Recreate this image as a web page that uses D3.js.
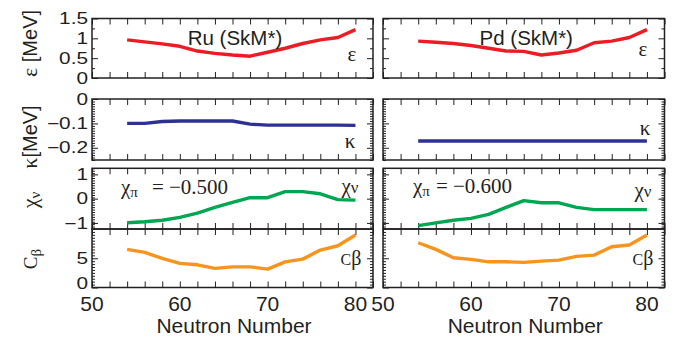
<!DOCTYPE html>
<html>
<head>
<meta charset="utf-8">
<script src="https://cdn.jsdelivr.net/npm/d3@7"></script>
<style>
  body { margin: 0; background: #fff; }
  svg { display: block; }
</style>
</head>
<body>
<svg id="chart" width="685" height="337"></svg>
<script>
// Neutron numbers of the isotope chains
const neutron = [54, 56, 58, 60, 62, 64, 66, 68, 70, 72, 74, 76, 78, 80];

// epsilon [MeV]
const epsRu = [0.96, 0.91, 0.86, 0.80, 0.68, 0.62, 0.58, 0.55, 0.65, 0.75, 0.87, 0.96, 1.02, 1.22];
const epsPd = [0.93, 0.90, 0.87, 0.82, 0.75, 0.68, 0.67, 0.58, 0.63, 0.70, 0.89, 0.93, 1.02, 1.22];

// kappa [MeV]
const kappaRu = [-0.100, -0.100, -0.092, -0.090, -0.090, -0.090, -0.090, -0.103, -0.107, -0.107, -0.107, -0.107, -0.107, -0.108];
const kappaPd = [-0.172, -0.172, -0.172, -0.172, -0.172, -0.172, -0.172, -0.172, -0.172, -0.172, -0.172, -0.172, -0.172, -0.172];

// chi_nu
const chiRu = [-0.99, -0.95, -0.89, -0.77, -0.60, -0.36, -0.15, 0.04, 0.04, 0.29, 0.29, 0.20, -0.04, -0.06];
const chiPd = [-1.11, -1.00, -0.89, -0.81, -0.65, -0.36, -0.08, -0.17, -0.17, -0.36, -0.45, -0.45, -0.45, -0.45];

// C_beta
const cbetaRu = [6.52, 6.00, 4.97, 4.12, 3.88, 3.26, 3.53, 3.53, 3.14, 4.39, 4.85, 6.40, 7.14, 8.97];
const cbetaPd = [7.65, 6.52, 5.08, 4.80, 4.39, 4.39, 4.29, 4.51, 4.68, 5.32, 5.54, 6.96, 7.26, 8.97];

// Tick values
const xMajorTicks = [50, 60, 70, 80];
const epsTicks = [0, 0.5, 1, 1.5];
const kappaTicks = [-0.2, -0.1, 0];
const chiTicks = [-1, 0, 1];
const cbetaTicks = [0, 5];

const ink = "#231f20";
const sans = "'Liberation Sans', Arial, Helvetica, sans-serif";
const serif = "'Liberation Serif', 'Times New Roman', 'DejaVu Serif', serif";

const svg = d3.select("#chart");

const columns = [
  { x0: 92, x1: 373, title: "Ru (SkM*)", chiPi: "= −0.500", chiGap: 14,
    series: { eps: epsRu, kappa: kappaRu, chi: chiRu, cbeta: cbetaRu },
    tags: { eps: [352, 60.7], kappa: [350, 148.3], chi: [350, 193.3], cbeta: [351, 265] },
    chiPiPos: [121, 194.3] },
  { x0: 383, x1: 664.5, title: "Pd (SkM*)", chiPi: "= −0.600", chiGap: 6,
    series: { eps: epsPd, kappa: kappaPd, chi: chiPd, cbeta: cbetaPd },
    tags: { eps: [643, 56.3], kappa: [645, 135], chi: [643, 197], cbeta: [643, 265] },
    chiPiPos: [413, 193.3] }
];

// lowest tick label of the bottom row sits a little higher to clear the x labels
const rows = [
  { key: "eps", domain: [0, 1.5], top: 18.5, bottom: 78, major: epsTicks, minorStep: 0.25, color: "#ed1c24", lowNudge: 0 },
  { key: "kappa", domain: [-0.25, 0], top: 99, bottom: 160, major: kappaTicks, minorStep: 0.01, color: "#2e3192", lowNudge: 0 },
  { key: "chi", domain: [-1.25, 1.25], top: 168.3, bottom: 229, major: chiTicks, minorStep: 0.1, color: "#00a651", lowNudge: 0 },
  { key: "cbeta", domain: [0, 10], top: 229, bottom: 287.5, major: cbetaTicks, minorStep: 0.5, color: "#f7941d", lowNudge: -4 }
];

const fmt = d3.format("~g");
const xMinor = d3.range(50, 82.001, 2);

function tickGroup(parent, axis, tx, ty) {
  const g = parent.append("g").attr("transform", `translate(${tx},${ty})`).call(axis);
  g.select(".domain").remove();
  g.selectAll("text").remove();
  g.selectAll("line").attr("stroke", ink).attr("stroke-width", 1);
  return g;
}

columns.forEach((col, ci) => {
  const x = d3.scaleLinear().domain([50, 82]).range([col.x0, col.x1]);

  rows.forEach((row, ri) => {
    const y = d3.scaleLinear().domain(row.domain).range([row.bottom, row.top]);
    const g = svg.append("g");

    const minor = d3.range(row.domain[0], row.domain[1] + row.minorStep / 2, row.minorStep)
      .map(v => +v.toFixed(4))
      .filter(v => !row.major.some(m => Math.abs(m - v) < 1e-6));

    // y ticks, inward on both sides
    tickGroup(g, d3.axisRight(y).tickValues(row.major).tickSizeInner(6).tickSizeOuter(0), col.x0, 0);
    tickGroup(g, d3.axisRight(y).tickValues(minor).tickSizeInner(3).tickSizeOuter(0), col.x0, 0);
    tickGroup(g, d3.axisLeft(y).tickValues(row.major).tickSizeInner(6).tickSizeOuter(0), col.x1, 0);
    tickGroup(g, d3.axisLeft(y).tickValues(minor).tickSizeInner(3).tickSizeOuter(0), col.x1, 0);

    // x ticks, inward on top and bottom
    tickGroup(g, d3.axisBottom(x).tickValues(xMinor).tickSizeInner(6).tickSizeOuter(0), 0, row.top);
    tickGroup(g, d3.axisTop(x).tickValues(xMinor).tickSizeInner(6).tickSizeOuter(0), 0, row.bottom);

    // frame
    g.append("rect")
      .attr("x", col.x0).attr("y", row.top)
      .attr("width", col.x1 - col.x0).attr("height", row.bottom - row.top)
      .attr("fill", "none").attr("stroke", ink).attr("stroke-width", 1.5);

    // data line
    const values = col.series[row.key];
    const line = d3.line().x(d => x(d[0])).y(d => y(d[1]));
    g.append("path")
      .datum(d3.zip(neutron, values))
      .attr("d", line)
      .attr("fill", "none")
      .attr("stroke", row.color)
      .attr("stroke-width", 3.4)
      .attr("stroke-linejoin", "round");

    // y tick labels on the left column only
    if (ci === 0) {
      row.major.forEach(v => {
        const nudge = v === row.domain[0] ? row.lowNudge : 0;
        g.append("text")
          .attr("transform", `translate(${col.x0 - 4},${y(v) + 5.6 + nudge}) scale(1.3,1)`)
          .attr("text-anchor", "end")
          .attr("font-family", sans).attr("font-size", 16).attr("fill", ink)
          .text(fmt(v));
      });
    }

    // quantity tag inside each panel
    const [tx, ty] = col.tags[row.key];
    const tag = g.append("text").attr("x", tx).attr("y", ty)
      .attr("text-anchor", "middle").attr("font-family", serif).attr("fill", ink);
    if (row.key === "eps") {
      tag.attr("font-size", 21).text("ε");
    } else if (row.key === "kappa") {
      tag.attr("font-size", 21).text("κ");
    } else if (row.key === "chi") {
      tag.attr("font-size", 21);
      tag.append("tspan").text("χ");
      tag.append("tspan").attr("font-size", 17).text("ν");
    } else {
      tag.append("tspan").attr("font-size", 16).text("C");
      tag.append("tspan").attr("font-size", 20).text("β");
    }

    // x tick labels and axis title under the bottom row
    if (ri === rows.length - 1) {
      xMajorTicks.forEach(v => {
        g.append("text")
          .attr("x", x(v)).attr("y", row.bottom + 23.5)
          .attr("text-anchor", "middle")
          .attr("font-family", sans).attr("font-size", 21).attr("fill", ink)
          .text(v);
      });
      g.append("text")
        .attr("x", (col.x0 + col.x1) / 2 + 1.5).attr("y", 333)
        .attr("text-anchor", "middle")
        .attr("font-family", sans).attr("font-size", 21).attr("fill", ink)
        .text("Neutron Number");
    }
  });

  // nucleus title
  svg.append("text")
    .attr("x", (col.x0 + col.x1) / 2 + 2.5).attr("y", 44.7)
    .attr("text-anchor", "middle")
    .attr("font-family", sans).attr("font-size", 20.5).attr("fill", ink)
    .text(col.title);

  // proton chi value
  const cp = svg.append("text")
    .attr("x", col.chiPiPos[0]).attr("y", col.chiPiPos[1])
    .attr("font-family", serif).attr("font-size", 21).attr("fill", ink);
  cp.append("tspan").text("χ");
  cp.append("tspan").attr("font-size", 15).attr("dy", 3).text("π");
  cp.append("tspan").attr("dy", -3).attr("dx", col.chiGap).text(col.chiPi);
});

// y-axis titles
function yTitle(cy, build) {
  const t = svg.append("text")
    .attr("transform", `translate(37,${cy}) rotate(-90)`)
    .attr("text-anchor", "middle")
    .attr("font-family", sans).attr("font-size", 20).attr("fill", ink);
  build(t);
}
yTitle(43.5, t => {
  t.append("tspan").attr("font-family", serif).attr("font-size", 22).text("ε");
  t.append("tspan").text(" [MeV]");
});
yTitle(137, t => {
  t.append("tspan").attr("font-family", serif).attr("font-size", 22).text("κ");
  t.append("tspan").text("[MeV]");
});
yTitle(200, t => {
  t.attr("font-family", serif);
  t.append("tspan").attr("font-size", 22).text("χ");
  t.append("tspan").attr("font-size", 15).attr("dy", 3).text("ν");
});
yTitle(259, t => {
  t.attr("font-family", serif);
  t.append("tspan").attr("font-size", 19).text("C");
  t.append("tspan").attr("font-size", 15).attr("dy", 4).text("β");
});
</script>
</body>
</html>
